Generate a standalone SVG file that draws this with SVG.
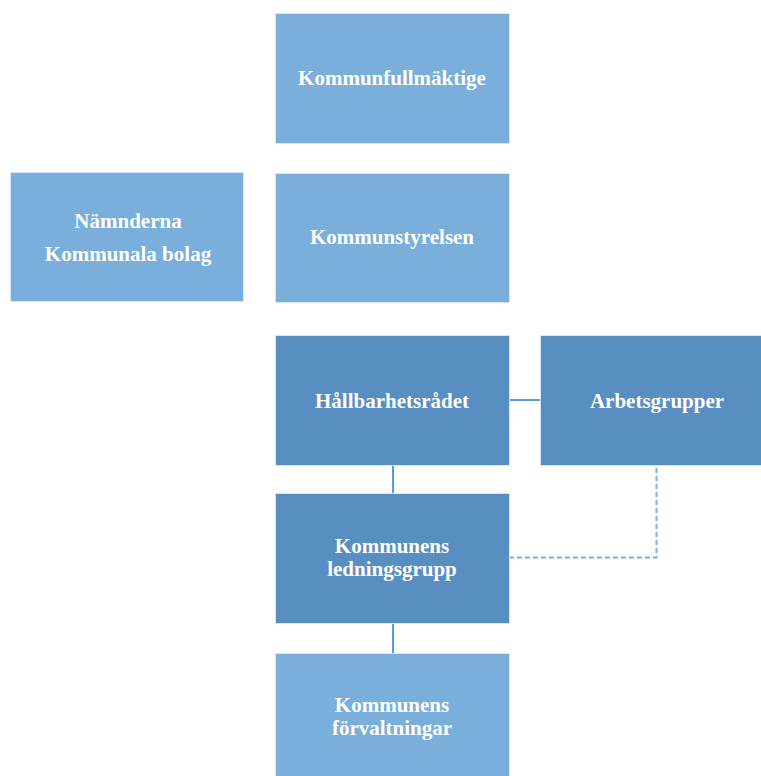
<svg xmlns="http://www.w3.org/2000/svg" width="761" height="776" viewBox="0 0 761 776">
<style>
.light{fill:#7AAEDB;stroke:#D6E6F5;stroke-width:1}
.dark{fill:#588EC2;stroke:#D6E6F5;stroke-width:1}
.lbl{font-family:"Liberation Serif","Times New Roman",serif;font-weight:bold;font-size:21px;fill:#FFFFFF;text-anchor:middle}
.solid{stroke:#5B9BD5;stroke-width:2;fill:none}
.dash{stroke:#7AAEDB;stroke-width:2;fill:none;stroke-dasharray:5 3}
</style>
<rect width="761" height="776" fill="#FFFFFF"/>
<g id="connectors">
<line class="solid" x1="504" y1="400" x2="540" y2="400"/>
<line class="solid" x1="393" y1="465" x2="393" y2="493"/>
<line class="solid" x1="393" y1="623" x2="393" y2="653"/>
<polyline class="dash" points="656.5,468 656.5,557.5 510,557.5"/>
</g>
<g id="kommunfullmaktige">
<rect class="light" x="275.5" y="13.5" width="234" height="130"/>
<text class="lbl" x="392" y="85">Kommunfullmäktige</text>
</g>
<g id="kommunstyrelsen">
<rect class="light" x="275.5" y="173.5" width="234" height="129"/>
<text class="lbl" x="392" y="244">Kommunstyrelsen</text>
</g>
<g id="namnderna">
<rect class="light" x="10.5" y="172.5" width="233" height="129"/>
<text class="lbl" x="128" y="227.5">Nämnderna</text>
<text class="lbl" x="128" y="261">Kommunala bolag</text>
</g>
<g id="hallbarhetsradet">
<rect class="dark" x="275.5" y="335.5" width="234" height="130"/>
<text class="lbl" x="392" y="407.5">Hållbarhetsrådet</text>
</g>
<g id="arbetsgrupper">
<rect class="dark" x="540.5" y="335.5" width="234" height="130"/>
<text class="lbl" x="657" y="407.5">Arbetsgrupper</text>
</g>
<g id="ledningsgrupp">
<rect class="dark" x="275.5" y="493.5" width="234" height="130"/>
<text class="lbl" x="392" y="552.5">Kommunens</text>
<text class="lbl" x="392" y="575.5">ledningsgrupp</text>
</g>
<g id="forvaltningar">
<rect class="light" x="275.5" y="653.5" width="234" height="130"/>
<text class="lbl" x="392" y="711.5">Kommunens</text>
<text class="lbl" x="392" y="735">förvaltningar</text>
</g>
</svg>
